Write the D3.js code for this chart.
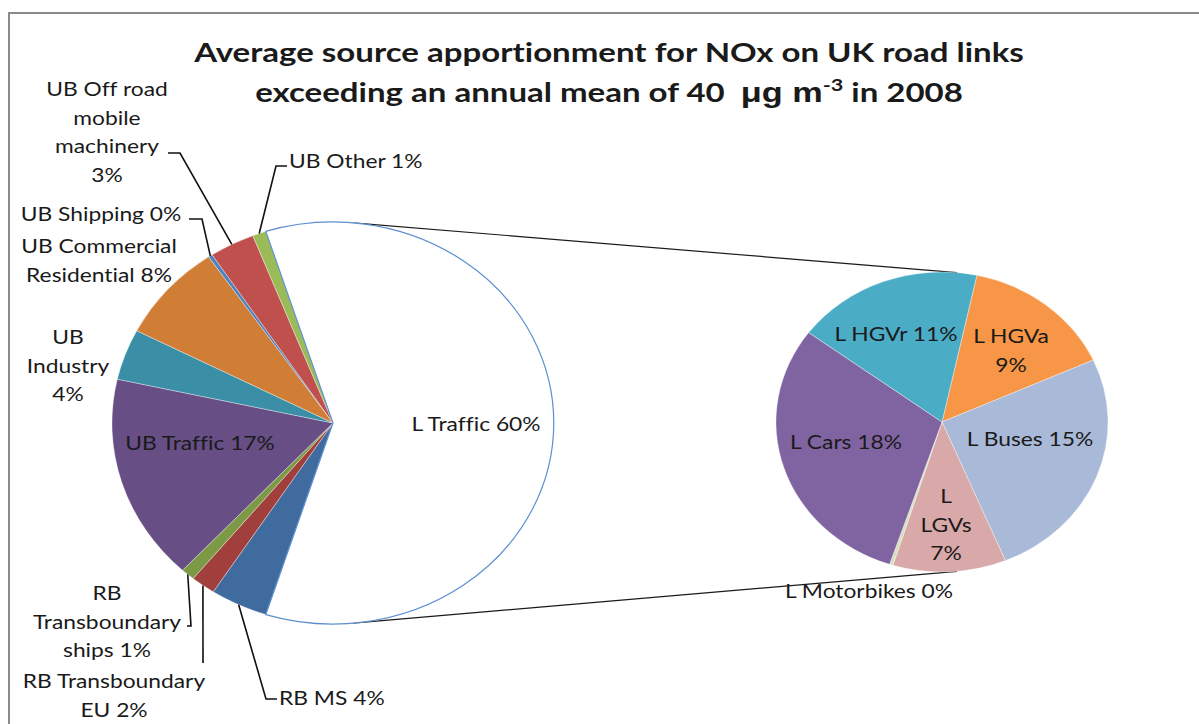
<!DOCTYPE html>
<html>
<head>
<meta charset="utf-8">
<script src="https://cdn.jsdelivr.net/npm/d3@7"></script>
<style>
  body { margin: 0; background: #fff; }
  text { font-family: Lato, "Open Sans", sans-serif; fill: #1a1a1a; font-variant-ligatures: none; white-space: pre; }
</style>
</head>
<body>
<div id="chart"></div>
<script>
// Main pie: sources, clockwise from L Traffic
var mainNames = ["L Traffic", "RB MS", "RB Transboundary EU", "RB Transboundary ships",
  "UB Traffic", "UB Industry", "UB Commercial Residential", "UB Shipping",
  "UB Off road mobile machinery", "UB Other"];
var mainValues = [59.9, 4.2, 1.8, 1.0, 16.6, 4.1, 7.9, 0.3, 3.3, 1.0];
var mainColors = ["#ffffff", "#3f6b9e", "#a03f3c", "#7c9a45", "#674e84", "#3a8fa6",
  "#d07d36", "#4f81bd", "#c0504d", "#9bbb59"];

// Secondary pie: split of L Traffic (percent of total)
var subNames = ["L HGVa", "L Buses", "L LGVs", "L Motorbikes", "L Cars", "L HGVr"];
var subValues = [8.9, 15.3, 6.6, 0.2, 18.0, 10.9];
var subColors = ["#f79646", "#a9b9d8", "#d8a9a8", "#d4e1ba", "#8064a2", "#4bacc6"];

var svgWidth = 1199;
var svgHeight = 724;

var svg = d3.select("#chart")
  .append("svg")
  .attr("width", svgWidth)
  .attr("height", svgHeight);

// chart border (runs off the right and bottom of the picture)
svg.append("rect")
  .attr("x", 9).attr("y", 13)
  .attr("width", 1250).attr("height", 800)
  .attr("fill", "none")
  .attr("stroke", "#8a8a8a")
  .attr("stroke-width", 2);

// Title (the original is stretched sideways, so scale x)
var titleX = 609;
var title1 = svg.append("text")
  .attr("transform", `translate(${titleX},62) scale(1.27,1)`)
  .attr("text-anchor", "middle")
  .style("font-weight", "bold")
  .style("font-size", "26px")
  .text("Average source apportionment for NOx on UK road links");

var title2 = svg.append("text")
  .attr("transform", `translate(${titleX},102) scale(1.27,1)`)
  .attr("text-anchor", "middle")
  .style("font-weight", "bold")
  .style("font-size", "26px");
title2.append("tspan").text("exceeding an annual mean of 40  ");
title2.append("tspan").style("font-family", "'Liberation Sans', Arial, sans-serif")
  .style("font-size", "27px").text("\u03bcg m");
title2.append("tspan").attr("dy", -11).style("font-size", "17px").text("-3");
title2.append("tspan").attr("dy", 11).text(" in 2008");

var mainTotal = d3.sum(mainValues);

var main = { cx: 333, cy: 423, rx: 221, ry: 201 };
var sub = { cx: 942, cy: 422, rx: 166, ry: 150 };

var deg = Math.PI / 180;
var mainStart = 90 * deg - (mainValues[0] / mainTotal) * Math.PI;

var mainPie = d3.pie().sort(null)
  .startAngle(mainStart).endAngle(mainStart + 2 * Math.PI);
var subPie = d3.pie().sort(null)
  .startAngle(12.1 * deg).endAngle(12.1 * deg + 2 * Math.PI);

var arc = d3.arc().innerRadius(0).outerRadius(1);

var mainArcs = mainPie(mainValues);
var subArcs = subPie(subValues);

function ellipsePoint(p, a) {
  return [p.cx + p.rx * Math.sin(a), p.cy - p.ry * Math.cos(a)];
}

// connector lines between the pies
var connAngles = [5.2 * deg, 174.8 * deg];
svg.append("g").selectAll("line")
  .data(connAngles)
  .enter()
  .append("line")
  .attr("x1", d => ellipsePoint(main, d)[0])
  .attr("y1", d => ellipsePoint(main, d)[1])
  .attr("x2", d => ellipsePoint(sub, d)[0])
  .attr("y2", d => ellipsePoint(sub, d)[1])
  .attr("stroke", "#1a1a1a")
  .attr("stroke-width", 1.2);

function drawPie(p, arcs, colors) {
  svg.append("g")
    .attr("transform", `translate(${p.cx},${p.cy}) scale(${p.rx},${p.ry})`)
    .selectAll("path")
    .data(arcs)
    .enter()
    .append("path")
    .attr("d", arc)
    .attr("fill", (d, i) => colors[i])
    .attr("stroke", "#ffffff")
    .attr("stroke-width", 0.6)
    .attr("stroke-opacity", 0.6)
    .attr("vector-effect", "non-scaling-stroke");
}
drawPie(main, mainArcs, mainColors);
drawPie(sub, subArcs, subColors);

// L Traffic outline on top
svg.append("path")
  .attr("transform", `translate(${main.cx},${main.cy}) scale(${main.rx},${main.ry})`)
  .attr("d", arc(mainArcs[0]))
  .attr("fill", "none")
  .attr("stroke", "#5b8fd0")
  .attr("stroke-width", 1.2)
  .attr("vector-effect", "non-scaling-stroke");

// label layout: lines ("{p}" gets the percent), text centre, leader elbows
var mainLabels = [
  { lines: ["L Traffic {p}%"], x: 476, y: 423 },
  { lines: ["RB MS {p}%"], x: 279, y: 697, anchor: "start", leader: [[266, 699], [277, 699]] },
  { lines: ["RB Transboundary", "EU {p}%"], x: 114, y: 680, leader: [[203, 663]] },
  { lines: ["RB", "Transboundary", "ships {p}%"], x: 107, y: 592, leader: [[191, 626], [187, 626]] },
  { lines: ["UB Traffic {p}%"], x: 200, y: 442 },
  { lines: ["UB", "Industry", "{p}%"], x: 68, y: 336 },
  { lines: ["UB Commercial", "Residential {p}%"], x: 99, y: 245 },
  { lines: ["UB Shipping {p}%"], x: 101, y: 213, leader: [[202, 219], [189, 219]] },
  { lines: ["UB Off road", "mobile", "machinery", "{p}%"], x: 107, y: 88, leader: [[180, 153], [168, 153]] },
  { lines: ["UB Other {p}%"], x: 289, y: 160, anchor: "start", leader: [[276, 166], [287, 166]] }
];
var subLabels = [
  { lines: ["L HGVa", "{p}%"], x: 1011, y: 335 },
  { lines: ["L Buses {p}%"], x: 1030, y: 438 },
  { lines: ["L", "LGVs", "{p}%"], x: 946, y: 495 },
  { lines: ["L Motorbikes {p}%"], x: 869, y: 590 },
  { lines: ["L Cars {p}%"], x: 846, y: 441 },
  { lines: ["L HGVr {p}%"], x: 896, y: 333 }
];

var lineHeight = 28.5;
var textStretch = 1.2;

// leader lines from slice edge midpoint
var leaderLine = d3.line();
mainLabels.forEach(function(lab, i) {
  if (!lab.leader) return;
  var a = (mainArcs[i].startAngle + mainArcs[i].endAngle) / 2;
  var pts = [ellipsePoint(main, a)].concat(lab.leader);
  svg.append("path")
    .attr("d", leaderLine(pts))
    .attr("fill", "none")
    .attr("stroke", "#111")
    .attr("stroke-width", 1.6);
});

function drawLabels(labels, values) {
  labels.forEach(function(lab, i) {
    var pct = Math.round(values[i] / mainTotal * 100);
    var t = svg.append("text")
      .attr("transform", `translate(${lab.x},${lab.y}) scale(${textStretch},1)`)
      .attr("text-anchor", lab.anchor || "middle")
      .attr("dominant-baseline", "central")
      .style("font-size", "19px");
    lab.lines.forEach(function(s, k) {
      t.append("tspan")
        .attr("x", 0)
        .attr("y", k * lineHeight)
        .text(s.replace("{p}", pct));
    });
  });
}
drawLabels(mainLabels, mainValues);
drawLabels(subLabels, subValues);
</script>
</body>
</html>
